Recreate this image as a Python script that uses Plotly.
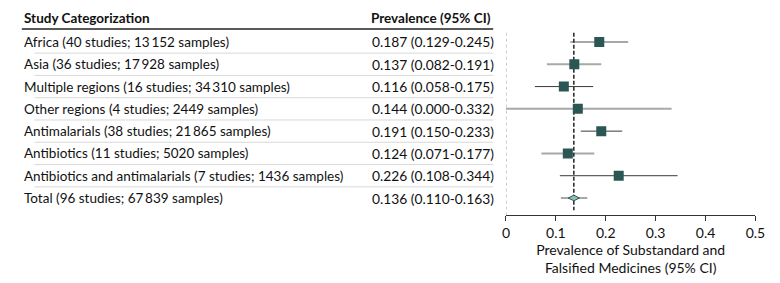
import plotly.graph_objects as go

labels = [
    "Africa (40 studies; 13\u2009152 samples)",
    "Asia (36 studies; 17\u2009928 samples)",
    "Multiple regions (16 studies; 34\u2009310 samples)",
    "Other regions (4 studies; 2449 samples)",
    "Antimalarials (38 studies; 21\u2009865 samples)",
    "Antibiotics (11 studies; 5020 samples)",
    "Antibiotics and antimalarials (7 studies; 1436 samples)",
    "Total (96 studies; 67\u2009839 samples)",
]
prevalence = [0.187, 0.137, 0.116, 0.144, 0.191, 0.124, 0.226, 0.136]
ci_low = [0.129, 0.082, 0.058, 0.000, 0.150, 0.071, 0.108, 0.110]
ci_high = [0.245, 0.191, 0.175, 0.332, 0.233, 0.177, 0.344, 0.163]
x_ticks = [0, 0.1, 0.2, 0.3, 0.4, 0.5]
x_tick_labels = ["0", "0.1", "0.2", "0.3", "0.4", "0.5"]

line_style = ["light", "light", "dark", "light", "dark", "light", "dark", "light"]

FONT = "Lato"
FS = 13.5
FSV = 13.8
W, H = 780, 283
OFFX = 0
OFFY = 8
MARKER = "#2a5653"
LIGHT = "#a8a8a8"
DARK = "#3a3a3a"
TXT = "#111111"

def px(x):
    return (x - OFFX) / W

n = len(labels)
rows = list(range(n))
fig = go.Figure()

# CI lines
for i in rows:
    dark = line_style[i] == "dark"
    fig.add_trace(go.Scatter(
        x=[ci_low[i], ci_high[i]], y=[i, i], mode="lines",
        line=dict(color=DARK if dark else LIGHT, width=1 if dark else 2),
        hoverinfo="skip", showlegend=False,
    ))

# reference lines
total = prevalence[-1]
fig.add_trace(go.Scatter(x=[total, total], y=[-0.42, n - 0.45], mode="lines",
                         line=dict(color="#333333", width=1.6, dash="4px,2px"),
                         hoverinfo="skip", showlegend=False))
fig.add_trace(go.Scatter(x=[0, 0], y=[-0.42, n - 0.24], mode="lines",
                         line=dict(color="#999999", width=1, dash="dot"),
                         hoverinfo="skip", showlegend=False))

# point estimates
fig.add_trace(go.Scatter(
    x=prevalence[:-1], y=rows[:-1], mode="markers",
    marker=dict(symbol="square", size=10, color=MARKER, line=dict(width=0)),
    showlegend=False,
))
fig.add_trace(go.Scatter(
    x=[prevalence[-1]], y=[rows[-1]], mode="markers",
    marker=dict(symbol="diamond-wide", size=8, color="#8fbdb8",
                line=dict(width=1, color=MARKER)),
    showlegend=False,
))

annotations = []
shapes = []
annotations.append(dict(x=px(10), y=-1.08, xref="paper", yref="y", text="<b>Study Categorization</b>",
                        showarrow=False, xanchor="left", yanchor="middle",
                        font=dict(family=FONT, size=FS, color=TXT)))
annotations.append(dict(x=px(490), y=-1.08, xref="paper", yref="y", text="<b>Prevalence (95% CI)</b>",
                        showarrow=False, xanchor="right", yanchor="middle",
                        font=dict(family=FONT, size=FS, color=TXT)))
shapes.append(dict(type="line", xref="paper", yref="y", x0=px(10), x1=px(490), y0=-0.58, y1=-0.58,
                   line=dict(color="#222222", width=1.5)))
for i in rows:
    annotations.append(dict(x=px(10), y=i, xref="paper", yref="y", text=labels[i],
                            showarrow=False, xanchor="left", yanchor="middle",
                            font=dict(family=FONT, size=FS, color=TXT)))
    annotations.append(dict(x=px(493), y=i, xref="paper", yref="y",
                            text=f"{prevalence[i]:.3f} ({ci_low[i]:.3f}-{ci_high[i]:.3f})",
                            showarrow=False, xanchor="right", yanchor="middle",
                            font=dict(family=FONT, size=FSV, color=TXT)))
    if i < n - 1:
        shapes.append(dict(type="line", xref="paper", yref="y", x0=px(23), x1=px(490),
                           y0=i + 0.5, y1=i + 0.5, line=dict(color="#d8d8d8", width=1)))

fig.update_layout(
    width=W, height=H,
    margin=dict(l=0, r=0, t=0, b=H - (215 - OFFY)),
    paper_bgcolor="white", plot_bgcolor="white",
    font=dict(family=FONT, size=FS, color=TXT),
    annotations=annotations, shapes=shapes,
    xaxis=dict(domain=[px(503), px(757)], range=[0, 0.5], tickvals=x_ticks, ticktext=x_tick_labels,
               showgrid=False, zeroline=False, showline=True, linecolor="#333333", linewidth=1,
               ticks="outside", ticklen=5, tickcolor="#333333",
               tickfont=dict(family=FONT, size=14, color=TXT),
               title=dict(text="Prevalence of Substandard and<br>Falsified Medicines (95% CI)",
                          font=dict(family=FONT, size=14, color=TXT), standoff=2)),
    yaxis=dict(range=[n - 1 + 0.763, -((42 - OFFY) / 22.29)], visible=False,
               showgrid=False, zeroline=False),
)

fig.write_html("out.html")
